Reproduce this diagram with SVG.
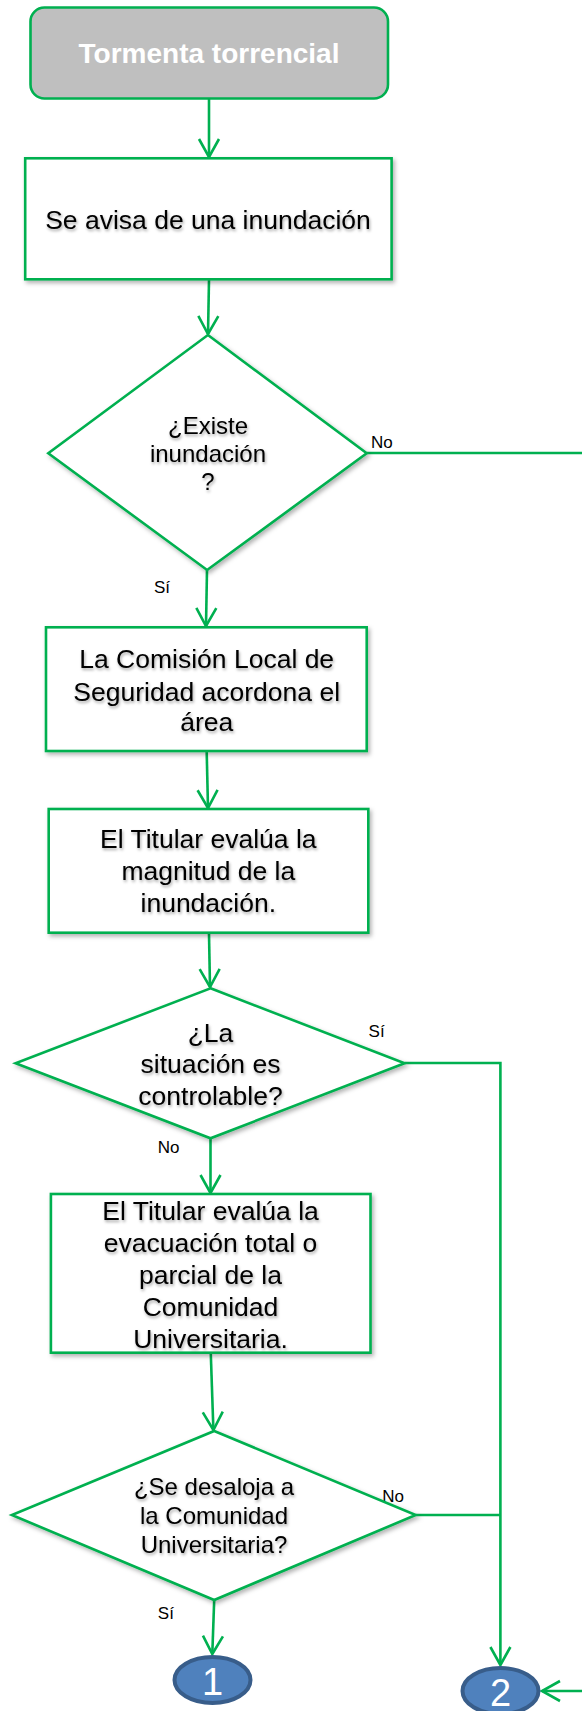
<svg xmlns="http://www.w3.org/2000/svg" width="582" height="1711" viewBox="0 0 582 1711">
<defs>
<filter id="sh" x="-10%" y="-10%" width="130%" height="130%">
<feDropShadow dx="2" dy="2.5" stdDeviation="2" flood-color="#000" flood-opacity="0.3"/>
</filter>
<filter id="tsh" x="-10%" y="-20%" width="130%" height="160%">
<feDropShadow dx="1" dy="2" stdDeviation="1.5" flood-color="#000" flood-opacity="0.35"/>
</filter>
<marker id="arr" markerUnits="userSpaceOnUse" markerWidth="24" markerHeight="24" viewBox="-20 -12 24 24" refX="0" refY="0" orient="auto">
<path d="M-18,-10 L0,0 L-18,10" fill="none" stroke="#00b050" stroke-width="2.6"/>
</marker>
</defs>
<style>
.shape{fill:#ffffff;stroke:#00b050;stroke-width:2.6}
.t{font-family:"Liberation Sans",Arial,sans-serif;fill:#000;text-anchor:middle}
.b{font-size:26.5px}
.d{font-size:24px}
.lbl{font-family:"Liberation Sans",Arial,sans-serif;font-size:17px;fill:#000}
.conn{fill:none;stroke:#00b050;stroke-width:2.6}
.circ{fill:#4f81bd;stroke:#385d8a;stroke-width:4}
.num{font-family:"Liberation Sans",Arial,sans-serif;font-size:38px;fill:#fff;text-anchor:middle}
</style>
<rect width="582" height="1711" fill="#ffffff"/>

<g id="connectors">
<line class="conn" x1="209" y1="99" x2="209" y2="157" marker-end="url(#arr)"/>
<line class="conn" x1="209" y1="280" x2="208" y2="334" marker-end="url(#arr)"/>
<polyline class="conn" points="367,453 582,453"/>
<line class="conn" x1="207" y1="570" x2="206" y2="626" marker-end="url(#arr)"/>
<line class="conn" x1="206.7" y1="752" x2="208" y2="808" marker-end="url(#arr)"/>
<line class="conn" x1="209" y1="934" x2="210" y2="987" marker-end="url(#arr)"/>
<polyline class="conn" points="404.6,1063 500.4,1063 500.4,1665" marker-end="url(#arr)"/>
<line class="conn" x1="210.5" y1="1138" x2="210.5" y2="1193" marker-end="url(#arr)"/>
<line class="conn" x1="210.8" y1="1354" x2="213.4" y2="1430" marker-end="url(#arr)"/>
<polyline class="conn" points="415.7,1515 500.4,1515"/>
<line class="conn" x1="214.2" y1="1600" x2="212.3" y2="1654" marker-end="url(#arr)"/>
<line class="conn" x1="582" y1="1691" x2="542" y2="1691" marker-end="url(#arr)"/>
<text class="lbl" x="371" y="448">No</text>
<text class="lbl" x="154" y="593">Sí</text>
<text class="lbl" x="368.6" y="1037">Sí</text>
<text class="lbl" x="157.8" y="1153">No</text>
<text class="lbl" x="382.3" y="1502">No</text>
<text class="lbl" x="157.8" y="1619">Sí</text>
</g>

<g id="n_start">
<rect x="30.5" y="7.5" width="357.5" height="91" rx="14" ry="14" fill="#bfbfbf" stroke="#00b050" stroke-width="2.6"/>
<text x="209" y="63" font-family="'Liberation Sans',Arial,sans-serif" font-size="28" font-weight="bold" fill="#ffffff" text-anchor="middle">Tormenta torrencial</text>
</g>

<g id="n_aviso">
<rect class="shape" x="25.2" y="158.3" width="366.4" height="121" filter="url(#sh)"/>
<text class="t b" x="208" y="228.5" filter="url(#tsh)">Se avisa de una inundación</text>
</g>

<g id="n_existe">
<polygon class="shape" points="207.9,335 366.7,453.3 207.1,570 48.3,453.3" filter="url(#sh)"/>
<text class="t d" x="208" y="434.3" filter="url(#tsh)">¿Existe</text>
<text class="t d" x="208" y="461.7" filter="url(#tsh)">inundación</text>
<text class="t d" x="208" y="490" filter="url(#tsh)">?</text>
</g>

<g id="n_acordona">
<rect class="shape" x="46" y="627.3" width="320.7" height="123.7" filter="url(#sh)"/>
<text class="t b" x="206.7" y="668.3" filter="url(#tsh)">La Comisión Local de</text>
<text class="t b" x="206.7" y="700.7" filter="url(#tsh)">Seguridad acordona el</text>
<text class="t b" x="206.7" y="731" filter="url(#tsh)">área</text>
</g>

<g id="n_magnitud">
<rect class="shape" x="48.7" y="809" width="319.6" height="123.7" filter="url(#sh)"/>
<text class="t b" x="208.3" y="848.3" filter="url(#tsh)">El Titular evalúa la</text>
<text class="t b" x="208.3" y="880" filter="url(#tsh)">magnitud de la</text>
<text class="t b" x="208.3" y="911.7" filter="url(#tsh)">inundación.</text>
</g>

<g id="n_controlable">
<polygon class="shape" points="210.5,988.3 404.6,1063.3 210.5,1138.3 15.6,1063.3" filter="url(#sh)"/>
<text class="t b" x="210.5" y="1041.7" filter="url(#tsh)">¿La</text>
<text class="t b" x="210.5" y="1073.3" filter="url(#tsh)">situación es</text>
<text class="t b" x="210.5" y="1105" filter="url(#tsh)">controlable?</text>
</g>

<g id="n_evacuacion">
<rect class="shape" x="50.9" y="1194" width="319.6" height="158.7" filter="url(#sh)"/>
<text class="t b" x="210.5" y="1220" filter="url(#tsh)">El Titular evalúa la</text>
<text class="t b" x="210.5" y="1251.7" filter="url(#tsh)">evacuación total o</text>
<text class="t b" x="210.5" y="1284" filter="url(#tsh)">parcial de la</text>
<text class="t b" x="210.5" y="1316" filter="url(#tsh)">Comunidad</text>
<text class="t b" x="210.5" y="1347.7" filter="url(#tsh)">Universitaria.</text>
</g>

<g id="n_desaloja">
<polygon class="shape" points="214.2,1431 415.7,1515 214.2,1600 11.9,1515" filter="url(#sh)"/>
<text class="t d" x="214" y="1495" filter="url(#tsh)">¿Se desaloja a</text>
<text class="t d" x="214" y="1524" filter="url(#tsh)">la Comunidad</text>
<text class="t d" x="214" y="1552.7" filter="url(#tsh)">Universitaria?</text>
</g>

<g id="n_c1">
<ellipse class="circ" cx="212.5" cy="1680" rx="38" ry="23"/>
<text class="num" x="212.5" y="1695">1</text>
</g>

<g id="n_c2">
<ellipse class="circ" cx="500.5" cy="1691" rx="38" ry="23"/>
<text class="num" x="500.5" y="1706">2</text>
</g>
</svg>
